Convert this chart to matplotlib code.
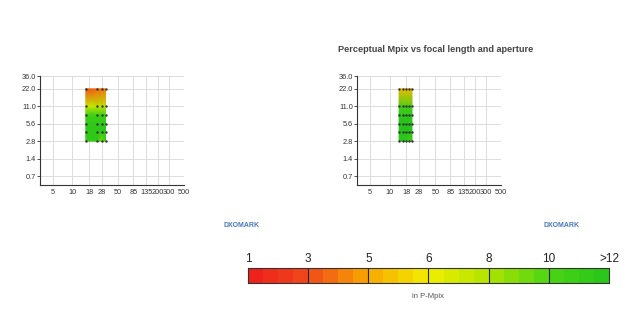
import numpy as np
import matplotlib
matplotlib.use('Agg')
import matplotlib.pyplot as plt
from matplotlib.colors import LinearSegmentedColormap

plt.rcParams['font.family'] = ['Liberation Sans', 'DejaVu Sans']

# scale used by the legend bar
scale_values = [1, 3, 5, 6, 8, 10, 12]
scale_labels = ['1', '3', '5', '6', '8', '10', '>12']
scale_colors = ['#ee1c1c', '#f04a1a', '#f8a800', '#f2ee00', '#b0e400', '#4cd414', '#26c41a']

x_ticks = [5, 10, 18, 28, 50, 85, 135, 200, 300, 500]
y_ticks = [0.7, 1.4, 2.8, 5.6, 11.0, 22.0, 36.0]

# left lens
left_focal = [16, 24, 28, 32]
left_aperture = [2.8, 4, 5.6, 8, 11, 22]
left_pmpix = [
    [11.0, 11.5, 9.0, 11.0],
    [11.5, 11.5, 11.5, 11.5],
    [11.5, 11.5, 11.5, 11.5],
    [10.5, 10.5, 10.5, 10.5],
    [7.3, 7.6, 7.6, 7.4],
    [3.2, 3.6, 3.8, 4.0],
]

# right lens
right_focal = [14, 16, 18, 20, 22]
right_aperture = [2.8, 4, 5.6, 8, 11, 22]
right_pmpix = [
    [11.5, 11.5, 11.5, 10.0, 11.5],
    [12.0, 12.0, 12.0, 12.0, 12.0],
    [12.0, 12.0, 12.0, 12.0, 12.0],
    [11.5, 11.5, 11.5, 11.5, 11.5],
    [10.5, 10.5, 10.5, 10.5, 10.5],
    [5.2, 5.3, 5.3, 5.3, 5.2],
]

cmap = LinearSegmentedColormap.from_list(
    'pmpix', list(zip(np.linspace(0, 1, len(scale_colors)), scale_colors)))


def to_pos(v):
    return np.interp(v, scale_values, np.arange(len(scale_values)))


def draw_map(ax, focal, aperture, pmpix):
    F, A = np.meshgrid(focal, aperture)
    Z = to_pos(np.array(pmpix))
    ax.pcolormesh(F, A, Z, shading='gouraud', cmap=cmap, vmin=0, vmax=6, zorder=2)
    ax.scatter(F.ravel(), A.ravel(), s=3, color='#333333', zorder=3, linewidths=0)
    ax.set_xscale('log')
    ax.set_yscale('log')
    ax.set_xlim(3.2, 505)
    ax.set_ylim(0.5, 36.5)
    ax.set_xticks(x_ticks)
    ax.set_xticklabels([str(t) for t in x_ticks])
    ax.set_yticks(y_ticks)
    ax.set_yticklabels([f'{t:.1f}' for t in y_ticks])
    ax.minorticks_off()
    ax.grid(True, color='#d8d8d8', linewidth=0.6, zorder=0)
    ax.set_axisbelow(True)
    for s in ['top', 'right']:
        ax.spines[s].set_visible(False)
    for s in ['left', 'bottom']:
        ax.spines[s].set_color('#333333')
        ax.spines[s].set_linewidth(0.8)
    ax.tick_params(axis='y', length=2, width=0.6, pad=1, labelsize=5.3, colors='#333333')
    ax.tick_params(axis='x', length=0, pad=3, labelsize=5.3, colors='#333333')


fig = plt.figure(figsize=(6.4, 3.16), dpi=100)

ax1 = fig.add_axes([0.0625, 0.4146, 0.225, 0.345])
draw_map(ax1, left_focal, left_aperture, left_pmpix)

ax2 = fig.add_axes([0.558, 0.4146, 0.225, 0.345])
draw_map(ax2, right_focal, right_aperture, right_pmpix)

fig.text(0.68, 0.842, 'Perceptual Mpix vs focal length and aperture',
         ha='center', va='center', fontsize=6.6, fontweight='bold', color='#444444')

for xl in [0.377, 0.877]:
    fig.text(xl, 0.285, 'DXOMARK', ha='center', va='center', fontsize=5,
             fontweight='bold', color='#4a78bd')

# legend bar
cax = fig.add_axes([0.3875, 0.1044, 0.564, 0.0475])
steps = 24
edges = np.linspace(0, 6, steps + 1)
mids = (edges[:-1] + edges[1:]) / 2
cax.bar(edges[:-1], np.ones(steps), width=6 / steps, align='edge',
        color=cmap(mids / 6), linewidth=0)
for p in range(1, 6):
    cax.axvline(p, color='#222222', linewidth=0.8)
cax.set_xlim(0, 6)
cax.set_ylim(0, 1)
cax.set_xticks([])
cax.set_yticks([])
for s in cax.spines.values():
    s.set_color('#333333')
    s.set_linewidth(0.8)
for i, lab in enumerate(scale_labels):
    cax.text(i, 1.2, lab, ha='center', va='bottom', fontsize=8.5, color='#222222',
             transform=cax.transData)

fig.text(0.669, 0.063, 'in P-Mpix', ha='center', va='center', fontsize=5.5, color='#555555')

fig.savefig('out.png', dpi=100)
